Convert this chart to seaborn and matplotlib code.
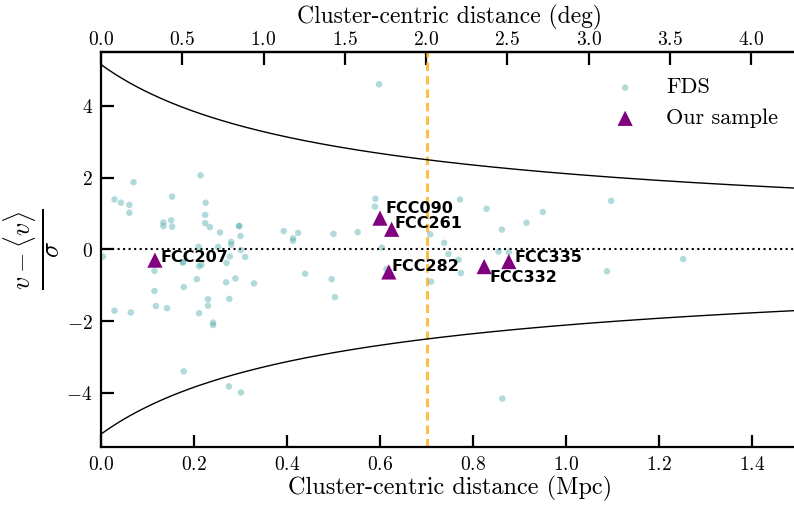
import numpy as np
import matplotlib
matplotlib.use("Agg")
import matplotlib.pyplot as plt
import matplotlib.ticker as mticker
import seaborn as sns

# FDS galaxies: projected distance (Mpc) and normalised velocity
fds_r = [0.004, 0.029, 0.043, 0.061, 0.061, 0.070, 0.134, 0.134, 0.151, 0.153,
         0.153, 0.214, 0.225, 0.224, 0.224, 0.234, 0.256, 0.297, 0.297, 0.300,
         0.280, 0.280, 0.252, 0.210, 0.301, 0.277, 0.310, 0.270, 0.216, 0.211,
         0.176, 0.176, 0.115, 0.206, 0.289, 0.269, 0.329, 0.178, 0.115, 0.276,
         0.230, 0.230, 0.118, 0.142, 0.029, 0.064, 0.211, 0.241, 0.241, 0.178,
         0.275, 0.301, 0.393, 0.413, 0.413, 0.424, 0.500, 0.439, 0.496, 0.503,
         0.598, 0.590, 0.589, 0.772, 0.829, 0.552, 0.604, 0.708, 0.738, 0.747,
         0.769, 0.774, 0.710, 0.614, 0.862, 0.915, 0.855, 0.877, 0.863, 0.950,
         1.097, 1.088, 1.252]
fds_v = [-0.20, 1.39, 1.30, 1.24, 1.02, 1.87, 0.75, 0.65, 0.81, 0.63,
         1.47, 2.06, 1.30, 0.96, 0.73, 0.62, 0.47, 0.65, 0.65, 0.37,
         0.21, 0.13, 0.07, 0.07, -0.02, -0.20, -0.21, -0.38, -0.43, -0.47,
         -0.36, -0.36, -0.60, -0.83, -0.81, -0.92, -0.95, -1.05, -1.16, -1.38,
         -1.39, -1.57, -1.58, -1.64, -1.71, -1.76, -1.78, -2.04, -2.11, -3.40,
         -3.82, -3.99, 0.51, 0.31, 0.24, 0.46, 0.43, -0.68, -0.83, -1.33,
         4.60, 1.41, 1.19, 1.39, 1.13, 0.48, 0.05, 0.42, 0.18, -0.13,
         -0.29, -0.66, -0.90, -0.55, 0.55, 0.74, -0.06, -0.08, -4.16, 1.04,
         1.35, -0.61, -0.27]

# our sample
names = ["FCC207", "FCC090", "FCC261", "FCC282", "FCC332", "FCC335"]
samp_r = [0.116, 0.600, 0.625, 0.619, 0.824, 0.877]
samp_v = [-0.30, 0.87, 0.56, -0.63, -0.48, -0.34]
# label offsets in points
lab_dx = [4, 4, 2, 2, 4, 4]
lab_dy = [2, 7, 4, 4, -8, 3]

# envelope a*(r+b)^-p, virial radius line, deg conversion
env_a, env_b, env_p = 2.636, 0.38, 0.692
r_vir = 0.7
mpc_per_deg = 0.3495

sns.set_style("ticks")
plt.rcParams.update({
    "mathtext.fontset": "cm",
    "axes.unicode_minus": False,
    "axes.edgecolor": "black",
    "axes.labelcolor": "black",
    "text.color": "black",
    "xtick.color": "black",
    "ytick.color": "black",
})

fig = plt.figure(figsize=(7.94, 5.05), dpi=100)
ax = fig.add_axes([101 / 794, 58.3 / 505, 697.5 / 794, 394.7 / 505])

sns.scatterplot(x=fds_r, y=fds_v, ax=ax, color="#4aa8a8", alpha=0.42, s=22,
                edgecolor="none", label="FDS", zorder=2)
sns.scatterplot(x=samp_r, y=samp_v, ax=ax, color="purple", marker="^", s=120,
                edgecolor="none", label="Our sample", zorder=4)

for n, x, y, dx, dy in zip(names, samp_r, samp_v, lab_dx, lab_dy):
    ax.annotate(n, (x, y), xytext=(dx, dy), textcoords="offset points",
                fontsize=11.5, fontweight="bold", family="DejaVu Sans",
                color="black", ha="left", va="center", zorder=5)

rr = np.linspace(0, 1.5, 300)
env = env_a * (rr + env_b) ** (-env_p)
ax.plot(rr, env, color="black", lw=1.0, zorder=3)
ax.plot(rr, -env, color="black", lw=1.0, zorder=3)
ax.axhline(0, color="black", ls=":", lw=1.5, zorder=1)
ax.axvline(r_vir, color="orange", alpha=0.72, ls=(0, (2.8, 1.6)), lw=2.2, zorder=1)

ax.set_xlim(0, 1.5)
ax.set_ylim(-5.5, 5.5)
ax.set_xticks(np.arange(0, 1.41, 0.2))
ax.set_yticks([-4, -2, 0, 2, 4])

fmt1 = mticker.FuncFormatter(lambda v, p: f"${v:.1f}$")
fmt0 = mticker.FuncFormatter(lambda v, p: f"${v:.0f}$")
ax.xaxis.set_major_formatter(fmt1)
ax.yaxis.set_major_formatter(fmt0)

for s in ax.spines.values():
    s.set_linewidth(1.6)
ax.tick_params(direction="in", length=9, width=1.6, labelsize=14, pad=6)

ax.set_xlabel("Cluster-centric distance (Mpc)", family="cmr10", fontsize=17.5, labelpad=1)
ax.set_ylabel(r"$\frac{v - \langle v \rangle}{\sigma}$", fontsize=27, labelpad=2)

top = ax.secondary_xaxis("top", functions=(lambda r: r / mpc_per_deg,
                                           lambda d: d * mpc_per_deg))
top.set_xticks(np.arange(0, 4.01, 0.5))
top.xaxis.set_major_formatter(fmt1)
top.tick_params(direction="in", length=9, width=1.6, labelsize=14, pad=2)
top.spines["top"].set_linewidth(1.6)
top.set_xlabel("Cluster-centric distance (deg)", family="cmr10", fontsize=17, labelpad=5)

leg = ax.legend(loc="upper right", bbox_to_anchor=(0.999, 0.985), frameon=False,
                prop={"family": "cmr10", "size": 16}, handletextpad=0.83,
                borderpad=0.4, labelspacing=0.5)

fig.savefig("out.png", dpi=100)
